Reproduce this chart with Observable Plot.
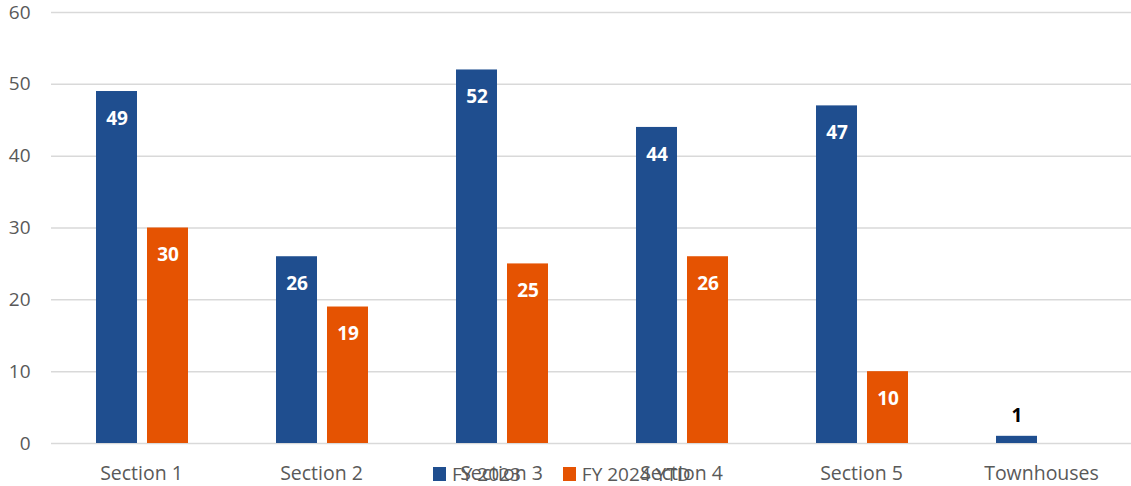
<!DOCTYPE html>
<html>
<head>
<meta charset="utf-8">
<script src="https://cdn.jsdelivr.net/npm/d3@7"></script>
<script src="https://cdn.jsdelivr.net/npm/@observablehq/plot@0.6"></script>
<style>
  html, body { margin: 0; padding: 0; background: #fff; }
  #wrap { position: relative; width: 1131px; height: 486px; font-family: "Open Sans", sans-serif; }
  #legend { position: absolute; top: 461px; left: 433px; display: flex; align-items: center; font-size: 19px; color: #595959; white-space: nowrap; }
  .item { display: flex; align-items: center; }
  .sw { width: 13px; height: 14px; display: inline-block; margin-right: 6px; }
</style>
</head>
<body>
<div id="wrap"><div id="chart"></div><div id="legend"></div></div>
<script>
const categories = ["Section 1", "Section 2", "Section 3", "Section 4", "Section 5", "Townhouses"];
const fy2023 = [49, 26, 52, 44, 47, 1];
const fy2024 = [30, 19, 25, 26, 10, null];
const seriesNames = ["FY 2023", "FY 2024 YTD"];
const seriesColors = ["#1F4E8F", "#E55302"];
const yTicks = [0, 10, 20, 30, 40, 50, 60];

const rows2023 = categories.map((c, i) => ({cat: c, v: fy2023[i]}));
const rows2024 = categories.map((c, i) => ({cat: c, v: fy2024[i]})).filter(d => d.v != null);

const font = "Open Sans, sans-serif";
const inside = d => d.v >= 5;

const chart = Plot.plot({
  width: 1131,
  height: 486,
  marginLeft: 51,
  marginRight: 0,
  marginTop: 12,
  marginBottom: 43,
  style: {fontFamily: font, fontSize: "19px", color: "#595959", background: "transparent"},
  x: {domain: categories, padding: 0, label: null},
  y: {domain: [0, 60], ticks: yTicks, label: null},
  marks: [
    Plot.ruleY(yTicks, {stroke: "#d9d9d9", strokeWidth: 1.5}),
    Plot.barY(rows2023, {x: "cat", y: "v", fill: seriesColors[0], insetLeft: 45, insetRight: 94}),
    Plot.barY(rows2024, {x: "cat", y: "v", fill: seriesColors[1], insetLeft: 96, insetRight: 43}),
    Plot.text(rows2023.filter(inside), {x: "cat", y: "v", text: d => String(d.v), dx: -24.5, dy: 27, fill: "white", fontWeight: "bold", fontSize: 19}),
    Plot.text(rows2023.filter(d => !inside(d)), {x: "cat", y: "v", text: d => String(d.v), dx: -24.5, dy: -20, fill: "black", fontWeight: "bold", fontSize: 19}),
    Plot.text(rows2024.filter(inside), {x: "cat", y: "v", text: d => String(d.v), dx: 26.5, dy: 27, fill: "white", fontWeight: "bold", fontSize: 19}),
    Plot.axisX({tickSize: 0, tickPadding: 23, fontSize: 19.5, fill: "#595959", label: null}),
    Plot.axisY({ticks: yTicks, tickSize: 0, tickPadding: 21, fontSize: 19, fill: "#595959", label: null})
  ]
});
document.getElementById("chart").appendChild(chart);

const legend = document.getElementById("legend");
seriesNames.forEach((name, i) => {
  const item = document.createElement("span");
  item.className = "item";
  item.style.marginRight = i === 0 ? "42px" : "0";
  const sw = document.createElement("span");
  sw.className = "sw";
  sw.style.background = seriesColors[i];
  item.appendChild(sw);
  item.appendChild(document.createTextNode(name));
  legend.appendChild(item);
});
</script>
</body>
</html>
